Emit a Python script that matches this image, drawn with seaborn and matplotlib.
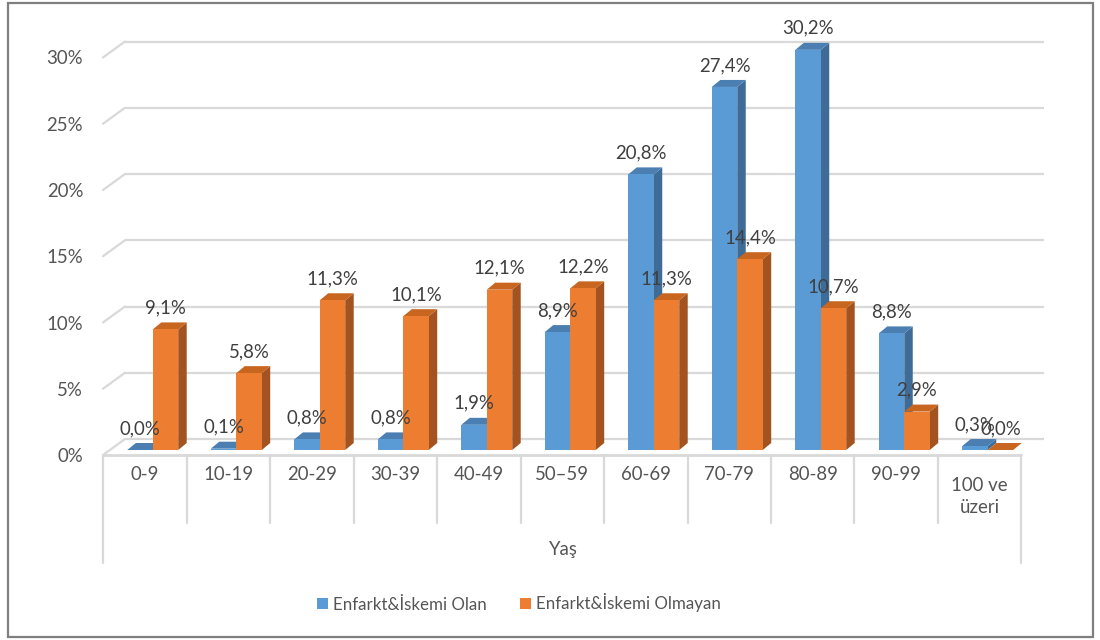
import numpy as np
import pandas as pd
import seaborn as sns
import matplotlib.pyplot as plt
from matplotlib.patches import Polygon, Patch, Rectangle
from matplotlib.transforms import ScaledTranslation

# --- data -------------------------------------------------------------
age_groups = ["0-9", "10-19", "20-29", "30-39", "40-49", "50–59",
              "60-69", "70-79", "80-89", "90-99", "100 ve\nüzeri"]
series_names = ["Enfarkt&İskemi Olan", "Enfarkt&İskemi Olmayan"]
with_infarct = [0.0, 0.1, 0.8, 0.8, 1.9, 8.9, 20.8, 27.4, 30.2, 8.8, 0.3]
without_infarct = [9.1, 5.8, 11.3, 10.1, 12.1, 12.2, 11.3, 14.4, 10.7, 2.9, 0.0]
y_ticks = [0, 5, 10, 15, 20, 25, 30]
x_title = "Yaş"

df = pd.DataFrame({
    "group": age_groups * 2,
    "value": with_infarct + without_infarct,
    "series": [series_names[0]] * len(age_groups) + [series_names[1]] * len(age_groups),
})

# --- styling ----------------------------------------------------------
sns.set_style("white")
plt.rcParams["font.family"] = ["Lato", "DejaVu Sans"]
FS = 13.4
FS_LEG = 12.2
TXT = "#555555"
LBL = "#3F3F3F"
GRID = "#D9D9D9"
front_col = ["#5B9BD5", "#ED7D31"]
side_col = ["#3E6C97", "#A2531F"]
top_col = ["#4B7FB2", "#C8661F"]

W, H = 1100, 640
fig = plt.figure(figsize=(W / 100, H / 100), dpi=100)
fig.patch.set_facecolor("white")

# plot plane geometry (pixels)
x_left, cat_px = 111, 83.5
y_zero, pct_px = 450, 13.25
ymax = 32
ax = fig.add_axes([x_left / W, (H - y_zero) / H,
                   cat_px * len(age_groups) / W, pct_px * ymax / H])
ax.set_facecolor("none")

sns.barplot(data=df, x="group", y="value", hue="series",
            palette=front_col, width=0.61, saturation=1,
            dodge=True, legend=False, ax=ax)
ax.set_xlim(-0.5, len(age_groups) - 0.5)
ax.set_ylim(0, ymax)
for s in ax.spines.values():
    s.set_visible(False)
ax.set_xlabel("")
ax.set_ylabel("")
ax.set_xticks([])

# depth offsets expressed in data units
def px2x(px):
    return px / cat_px

def px2y(px):
    return px / pct_px

ddx, ddy = px2x(8.5), px2y(7)        # bar depth
fx, fy = px2x(-8), px2y(-5)          # front floor edge
bx, by = px2x(14), px2y(11)          # back wall

# 3D faces of the bars
for k, cont in enumerate(ax.containers):
    z = 2 + k
    for p in cont.patches:
        p.set_zorder(z + 0.2)
        p.set_edgecolor("none")
        x0, w, h = p.get_x(), p.get_width(), p.get_height()
        side = [(x0 + w, 0), (x0 + w + ddx, ddy), (x0 + w + ddx, h + ddy), (x0 + w, h)]
        top = [(x0, h), (x0 + w, h), (x0 + w + ddx, h + ddy), (x0 + ddx, h + ddy)]
        ax.add_patch(Polygon(side, closed=True, facecolor=side_col[k],
                             edgecolor="none", zorder=z, clip_on=False))
        ax.add_patch(Polygon(top, closed=True, facecolor=top_col[k],
                             edgecolor="none", zorder=z + 0.1, clip_on=False))
        lab = f"{h:.1f}%".replace(".", ",")
        ax.annotate(lab, (x0 + w / 2, h), xytext=(0, 15.5), textcoords="offset points",
                    ha="center", va="center", fontsize=FS, color=LBL, zorder=10,
                    annotation_clip=False)

# back wall gridlines and side wall diagonals
xl, xr = -0.5, len(age_groups) - 0.5
for t in y_ticks:
    ax.plot([xl + bx, xr + bx], [t + by, t + by], color=GRID, lw=1.6,
            zorder=0.5, clip_on=False, solid_capstyle="butt")
    ax.plot([xl + fx, xl + bx], [t + fy, t + by], color=GRID, lw=1.6,
            zorder=0.5, clip_on=False)

# floor front edge
ax.plot([xl + fx, xr + fx], [fy, fy], color=GRID, lw=2.0, zorder=0.6, clip_on=False)

# category separators
inner_bottom = px2y(y_zero - 523)
outer_bottom = px2y(y_zero - 563)
for i in range(len(age_groups) + 1):
    yb = outer_bottom if i in (0, len(age_groups)) else inner_bottom
    ax.plot([xl + i + fx, xl + i + fx], [fy, yb], color=GRID, lw=1.6,
            zorder=0.6, clip_on=False)

# category labels
for i, g in enumerate(age_groups):
    ypx = 496.5 if "\n" in g else 475
    ax.text(i + fx, px2y(y_zero - ypx), g, ha="center", va="center",
            fontsize=FS, color=TXT, linespacing=1.35, clip_on=False)

ax.text((xl + xr) / 2 + fx, px2y(y_zero - 550), x_title, ha="center", va="center",
        fontsize=FS, color=TXT, clip_on=False)

# value axis labels, placed on the front plane
ax.set_yticks(y_ticks, [f"{t}%" for t in y_ticks])
ax.tick_params(axis="y", length=0, pad=20, labelsize=FS, labelcolor=TXT)
for lab in ax.get_yticklabels():
    lab.set_transform(lab.get_transform() + ScaledTranslation(0, -5 / 100, fig.dpi_scale_trans))
ax.grid(False)

# legend
handles = [Patch(facecolor=c, edgecolor="none") for c in front_col]
fig.legend(handles, series_names, loc="center", bbox_to_anchor=(519 / W, 1 - 603 / H),
           ncol=2, frameon=False, fontsize=FS_LEG, labelcolor=TXT,
           handlelength=0.65, handleheight=0.65, handletextpad=0.3, columnspacing=2.0)

# outer frame
fig.patches.append(Rectangle((8 / W, 3 / H), 1085 / W, 634 / H, transform=fig.transFigure,
                             fill=False, edgecolor="#7F7F7F", lw=1.6))

fig.savefig("out.png", dpi=100, facecolor="white")
